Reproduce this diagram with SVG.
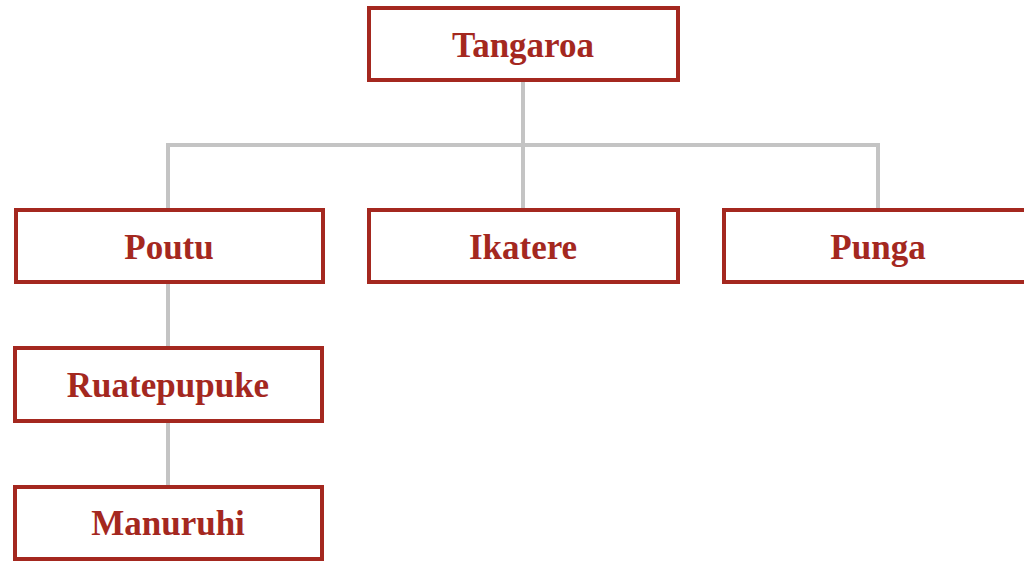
<svg xmlns="http://www.w3.org/2000/svg" width="1024" height="562" viewBox="0 0 1024 562">
<style>
.box{fill:#ffffff;stroke:#a4281f;stroke-width:4}
.lbl{font-family:"Liberation Serif","DejaVu Serif",serif;font-weight:bold;font-size:35px;fill:#a4281f;text-anchor:middle}
.con{fill:none;stroke:#c4c4c4;stroke-width:4}
</style>
<rect width="1024" height="562" fill="#ffffff"/>
<g id="connectors">
<path class="con" d="M523,80 V145 M168,208 V145 H878 V208 M523,145 V208"/>
<path class="con" d="M168,282 V347"/>
<path class="con" d="M168,422 V486"/>
</g>
<g id="tangaroa"><rect class="box" x="369" y="8" width="309" height="72"/><text class="lbl" x="523" y="57">Tangaroa</text></g>
<g id="poutu"><rect class="box" x="16" y="210" width="307" height="72"/><text class="lbl" x="169" y="259">Poutu</text></g>
<g id="ikatere"><rect class="box" x="369" y="210" width="309" height="72"/><text class="lbl" x="523" y="259">Ikatere</text></g>
<g id="punga"><rect class="box" x="724" y="210" width="310" height="72"/><text class="lbl" x="878" y="259">Punga</text></g>
<g id="ruatepupuke"><rect class="box" x="15" y="348" width="307" height="73"/><text class="lbl" x="168" y="397">Ruatepupuke</text></g>
<g id="manuruhi"><rect class="box" x="15" y="487" width="307" height="72"/><text class="lbl" x="168" y="535">Manuruhi</text></g>
</svg>
